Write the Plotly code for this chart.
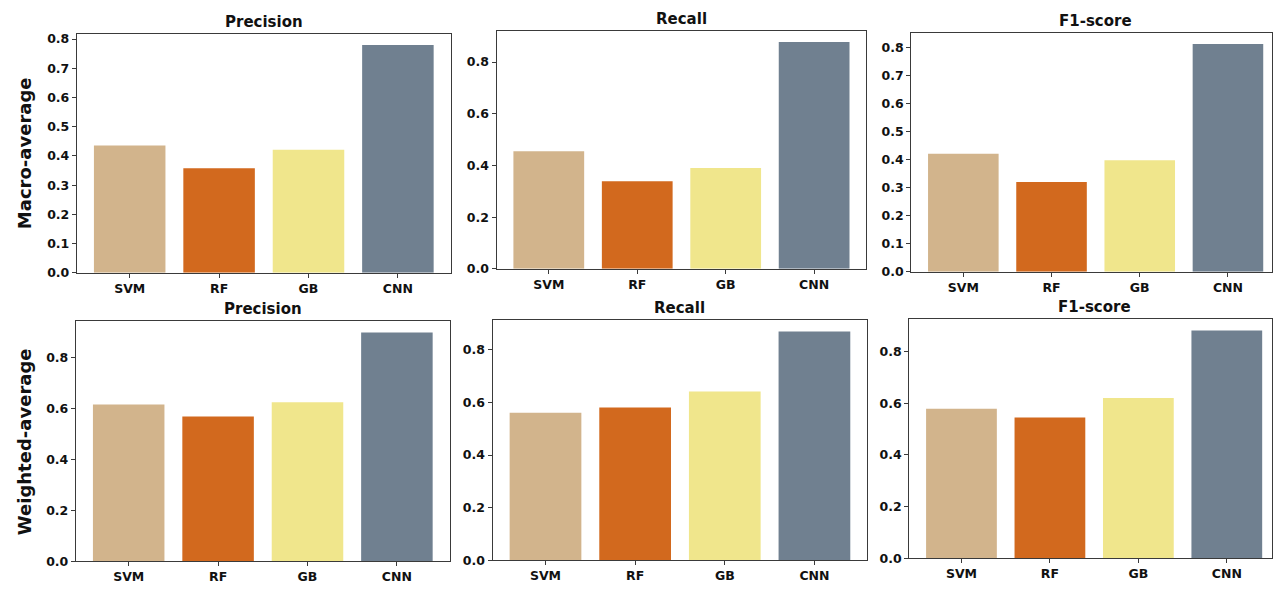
import plotly.graph_objects as go

W, H = 1273, 589

models = ["SVM", "RF", "GB", "CNN"]
colors = ["#D2B48C", "#D2691E", "#F0E68C", "#708090"]
metrics = ["Precision", "Recall", "F1-score"]
row_labels = ["Macro-average", "Weighted-average"]

macro_precision = [0.436, 0.358, 0.421, 0.780]
macro_recall = [0.455, 0.339, 0.390, 0.878]
macro_f1 = [0.421, 0.320, 0.398, 0.813]
weighted_precision = [0.615, 0.568, 0.624, 0.898]
weighted_recall = [0.560, 0.580, 0.641, 0.869]
weighted_f1 = [0.578, 0.545, 0.620, 0.881]

macro_ticks = [[0, 0.1, 0.2, 0.3, 0.4, 0.5, 0.6, 0.7, 0.8], [0, 0.2, 0.4, 0.6, 0.8], [0, 0.1, 0.2, 0.3, 0.4, 0.5, 0.6, 0.7, 0.8]]
weighted_ticks = [[0, 0.2, 0.4, 0.6, 0.8]] * 3

data = [[macro_precision, macro_recall, macro_f1],
        [weighted_precision, weighted_recall, weighted_f1]]
ticks = [macro_ticks, weighted_ticks]

# panel boxes in screen pixels: (left, right, top, bottom)
boxes = [
    [(77, 451, 32, 275), (497, 867, 29, 271), (912, 1273, 31, 274)],
    [(76, 450, 324, 568), (493, 868, 323, 567), (910, 1273, 322, 565)],
]
full_right = [[451, 867, 1281], [450, 868, 1280]]


def px(x):
    return x / W


def py(y):
    return 1 - y / H


fig = go.Figure()
font = "DejaVu Sans"
axis_color = "#3a3a3a"
annotations = []

k = 0
for r in range(2):
    for c in range(3):
        k += 1
        xa = "x" if k == 1 else f"x{k}"
        ya = "y" if k == 1 else f"y{k}"
        vals = data[r][c]
        fig.add_trace(go.Bar(x=models, y=vals, marker=dict(color=colors, line=dict(width=0)),
                             width=0.8, xaxis=xa, yaxis=ya, showlegend=False))
        L, R, T, B = boxes[r][c]
        fr = full_right[r][c]
        span = 4.18 * (R - L) / (fr - L)
        xr = [-0.59, -0.59 + span]
        ymax = max(vals) * 1.05
        xkey = "xaxis" if k == 1 else f"xaxis{k}"
        ykey = "yaxis" if k == 1 else f"yaxis{k}"
        fig.layout[xkey] = dict(domain=[px(L), min(px(R), 1.0)], anchor=ya, range=xr,
                                showline=True, linecolor=axis_color, linewidth=1.2, mirror=True,
                                ticks="outside", ticklen=4, tickcolor=axis_color,
                                tickfont=dict(family=font, size=12.5, color="#111", weight="bold"),
                                showgrid=False, zeroline=False, fixedrange=True)
        fig.layout[ykey] = dict(domain=[py(B), py(T)], anchor=xa, range=[0, ymax],
                                showline=True, linecolor=axis_color, linewidth=1.2, mirror=True,
                                ticks="outside", ticklen=4, tickcolor=axis_color,
                                tickvals=ticks[r][c], tickformat=".1f",
                                tickfont=dict(family=font, size=12.5, color="#111", weight="bold"),
                                showgrid=False, zeroline=False, fixedrange=True)
        cx = (L + fr) / 2
        annotations.append(dict(text="<b>%s</b>" % metrics[c], x=px(cx),
                                y=py(T), xref="paper", yref="paper", xanchor="center", yanchor="bottom",
                                yshift=1, showarrow=False, font=dict(family=font, size=15, color="#111")))
    L, R, T, B = boxes[r][0]
    annotations.append(dict(text="<b>%s</b>" % row_labels[r], x=px(24), y=py((T + B) / 2),
                            xref="paper", yref="paper", xanchor="center", yanchor="middle",
                            textangle=-90, showarrow=False, font=dict(family=font, size=18, color="#111")))

fig.update_layout(width=W, height=H, margin=dict(l=0, r=0, t=0, b=0),
                  paper_bgcolor="white", plot_bgcolor="white", bargap=0.2,
                  annotations=annotations, font=dict(family=font))

fig.write_html("out.html", config={"displayModeBar": False},
               post_script="document.body.style.margin='0';document.body.style.overflow='hidden';")
